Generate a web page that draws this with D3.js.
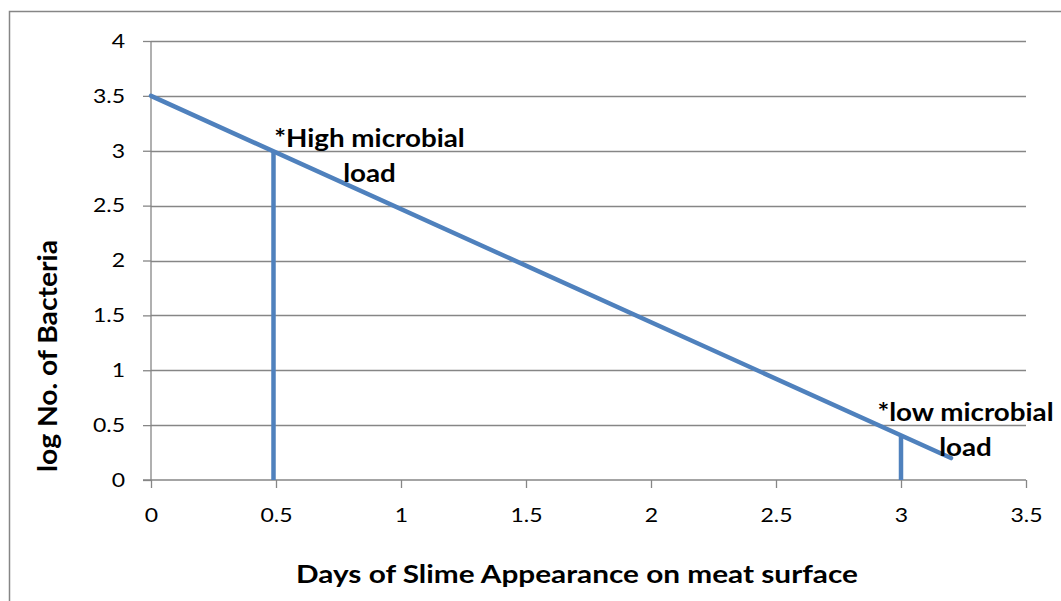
<!DOCTYPE html>
<html><head><meta charset="utf-8">
<script src="https://cdn.jsdelivr.net/npm/d3@7"></script>
<style>body{margin:0;background:#fff}svg{display:block}text{font-family:Lato,"Open Sans",sans-serif}</style>
</head><body>
<svg id="c" width="1061" height="601"></svg>
<script>
const linePoints = [{x:0,y:3.5},{x:3.2,y:0.2}];
const dropLines = [{x:0.49,y:3.0},{x:3.0,y:0.4}];
const xTicks = [0,0.5,1,1.5,2,2.5,3,3.5];
const yTicks = [0,0.5,1,1.5,2,2.5,3,3.5,4];
const annotations = [
  {x:0.874,y:3.03,lines:["*High microbial","load"]},
  {x:3.258,y:0.535,lines:["*low microbial","load"]}
];
const xTitle = "Days of Slime Appearance on meat surface";
const yTitle = "log No. of Bacteria";

const svg = d3.select("#c");
const x = d3.scaleLinear().domain([0,3.5]).range([151,1026]);
const y = d3.scaleLinear().domain([0,4]).range([480,41]);
const grid = "#868686";
const stretch = 1.18; // horizontal glyph stretch of the reference
function widen(sel,k){ sel.each(function(){ const w=this.getComputedTextLength(); d3.select(this).attr("textLength",w*k).attr("lengthAdjust","spacingAndGlyphs"); }); }

// outer border (top and left)
svg.append("path").attr("d","M9.5,601 V11.5 H1061").attr("fill","none").attr("stroke",grid).attr("stroke-width",1.5);

// gridlines
svg.append("g").selectAll("line").data(yTicks.filter(d=>d>0)).join("line")
  .attr("x1",x(0)).attr("x2",x(3.5)).attr("y1",d=>Math.round(y(d))+0.5).attr("y2",d=>Math.round(y(d))+0.5)
  .attr("stroke",grid).attr("stroke-width",1.3);

// y axis
const ya = svg.append("g").attr("transform",`translate(${x(0)},0)`)
  .call(d3.axisLeft(y).tickValues(yTicks).tickSize(8).tickPadding(18).tickFormat(d3.format("")));
ya.select(".domain").attr("stroke",grid).attr("stroke-width",1.3).attr("d",`M0,${y(4)}V${y(0)}`);
ya.selectAll(".tick line").attr("stroke",grid).attr("stroke-width",1.3);
ya.selectAll(".tick text").attr("font-size",19.5).attr("fill","#000").attr("font-family","Lato").call(widen,stretch);

// x axis
const xa = svg.append("g").attr("transform",`translate(0,${y(0)})`)
  .call(d3.axisBottom(x).tickValues(xTicks).tickSize(8).tickPadding(20).tickFormat(d3.format("")));
xa.select(".domain").attr("stroke",grid).attr("stroke-width",1.3).attr("d",`M${x(0)-8},0H${x(3.5)}`);
xa.selectAll(".tick line").attr("stroke",grid).attr("stroke-width",1.3);
xa.selectAll(".tick text").attr("font-size",19.5).attr("fill","#000").attr("font-family","Lato").call(widen,stretch);

const blue = "#4F81BD";
// drop lines
svg.append("g").selectAll("line").data(dropLines).join("line")
  .attr("x1",d=>x(d.x)).attr("x2",d=>x(d.x)).attr("y1",d=>y(d.y)).attr("y2",y(0))
  .attr("stroke",blue).attr("stroke-width",4.5);
// main line
svg.append("path").datum(linePoints)
  .attr("d",d3.line().x(d=>x(d.x)).y(d=>y(d.y)))
  .attr("fill","none").attr("stroke",blue).attr("stroke-width",4.5).attr("stroke-linecap","round");

// annotations
annotations.forEach(a=>{
  a.lines.forEach((l,i)=>{
    svg.append("text").attr("text-anchor","middle").attr("font-weight","bold").attr("font-size",25)
      .attr("x",x(a.x)).attr("y",y(a.y)+i*35).text(l).call(widen,1.11);
  });
});

// axis titles
svg.append("text").attr("x",577).attr("y",583).attr("text-anchor","middle").attr("font-weight","bold").attr("font-size",25).text(xTitle).call(widen,1.19);
svg.append("text").attr("transform","translate(57,356) rotate(-90)").attr("text-anchor","middle").attr("font-weight","bold").attr("font-size",27)
  .text(yTitle).attr("textLength",232).attr("lengthAdjust","spacingAndGlyphs");
</script>
</body></html>
